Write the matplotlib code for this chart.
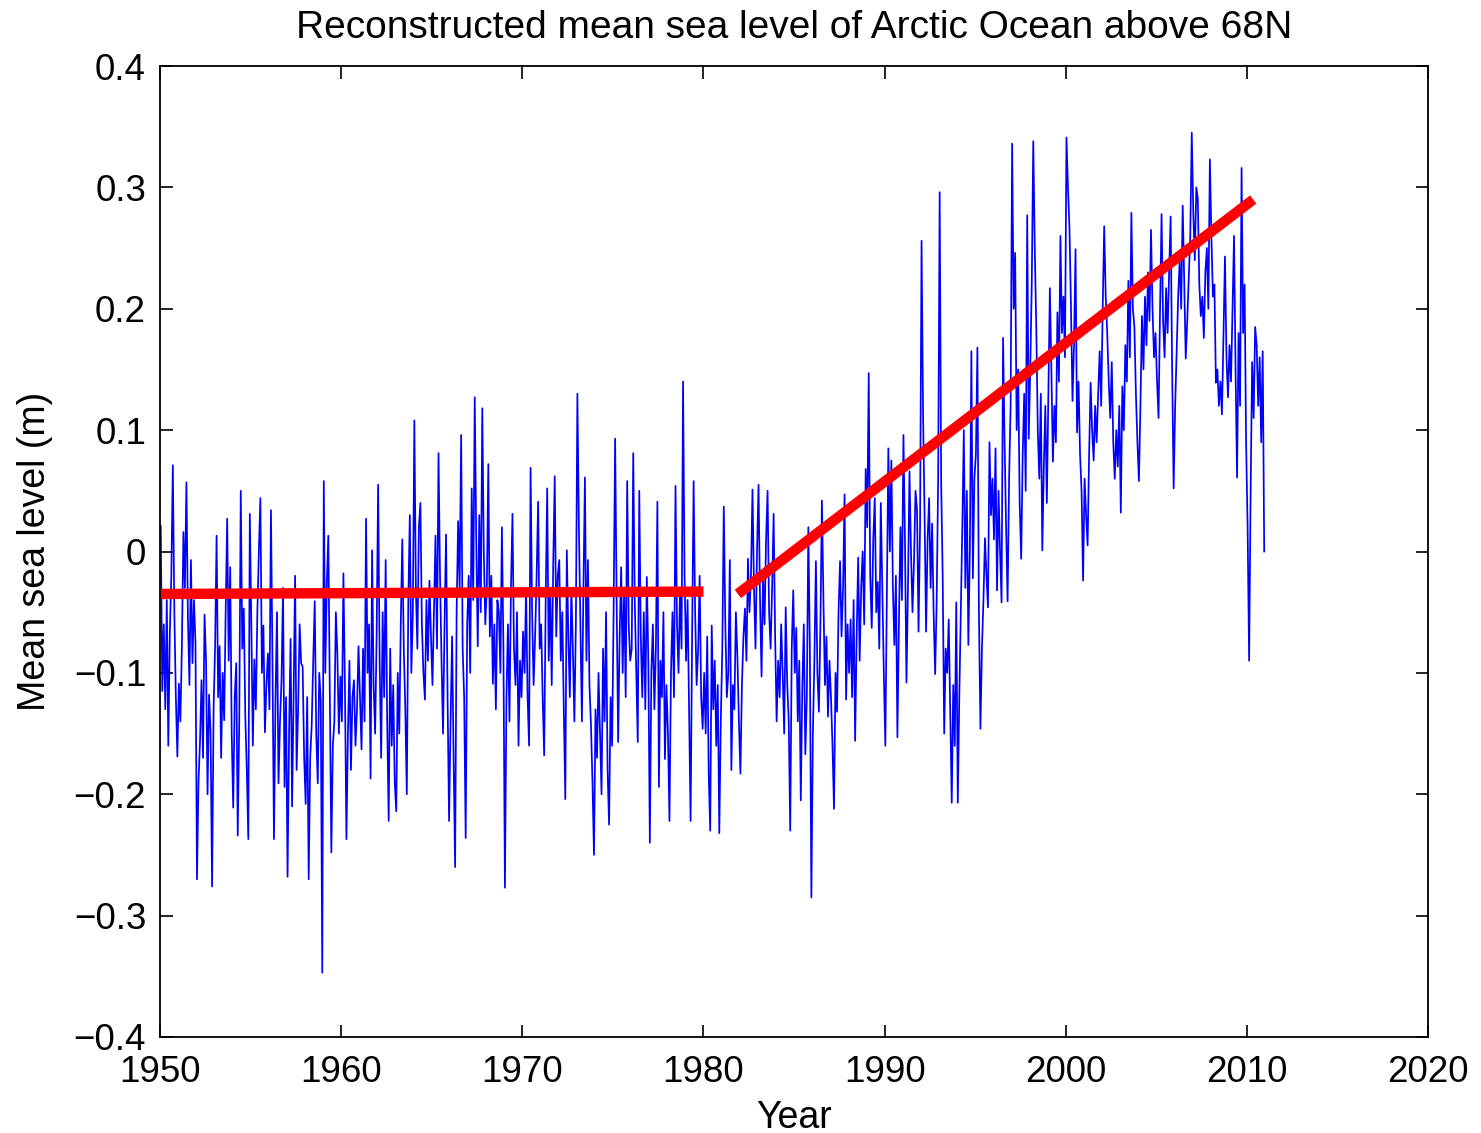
import numpy as np
import matplotlib
matplotlib.use("Agg")
import matplotlib.pyplot as plt

plt.rcParams['font.family'] = ['Liberation Sans', 'DejaVu Sans']

# Monthly reconstructed mean sea level (m), Jan 1950 .. Dec 2010
msl_by_year = {
    1950: [0.021, -0.115, -0.06, -0.13, -0.04, -0.16, -0.067, -0.02, 0.071, -0.05, -0.12, -0.169],
    1951: [-0.109, -0.14, -0.078, 0.016, -0.03, 0.057, -0.055, -0.11, -0.007, -0.092, -0.04, -0.075],
    1952: [-0.27, -0.19, -0.157, -0.106, -0.17, -0.052, -0.09, -0.2, -0.118, -0.149, -0.276, -0.13],
    1953: [-0.078, 0.013, -0.12, -0.078, -0.17, -0.1, -0.139, -0.05, 0.027, -0.09, -0.013, -0.15],
    1954: [-0.211, -0.12, -0.092, -0.234, -0.14, 0.05, -0.08, -0.047, -0.135, -0.18, -0.237, 0.031],
    1955: [-0.06, -0.16, -0.089, -0.13, -0.05, 0.001, 0.044, -0.1, -0.061, -0.149, -0.11, -0.084],
    1956: [-0.13, 0.034, -0.09, -0.237, -0.123, -0.05, -0.191, -0.14, -0.106, -0.03, -0.194, -0.12],
    1957: [-0.268, -0.15, -0.072, -0.21, -0.12, -0.02, -0.18, -0.13, -0.06, -0.092, -0.095, -0.17],
    1958: [-0.208, -0.12, -0.27, -0.17, -0.143, -0.09, -0.041, -0.15, -0.191, -0.1, -0.123, -0.347],
    1959: [0.058, -0.1, -0.027, 0.013, -0.12, -0.248, -0.16, -0.14, -0.05, -0.084, -0.15, -0.103],
    1960: [-0.14, -0.018, -0.11, -0.237, -0.15, -0.09, -0.18, -0.12, -0.106, -0.16, -0.13, -0.078],
    1961: [-0.12, -0.163, -0.08, -0.14, 0.027, -0.1, -0.06, -0.187, 0.001, -0.11, -0.15, -0.07],
    1962: [0.055, -0.09, -0.17, -0.05, -0.12, -0.007, -0.14, -0.222, -0.08, -0.16, -0.11, -0.19],
    1963: [-0.214, -0.1, -0.15, -0.06, 0.01, -0.08, -0.13, -0.2, -0.04, 0.03, -0.1, -0.05],
    1964: [0.108, -0.03, -0.08, 0.02, 0.04, -0.06, -0.1, -0.122, -0.04, -0.09, -0.024, -0.07],
    1965: [-0.11, -0.05, 0.013, -0.08, 0.081, -0.02, -0.09, -0.15, -0.06, 0.014, -0.12, -0.222],
    1966: [-0.14, -0.07, -0.17, -0.26, -0.05, 0.025, -0.03, 0.096, -0.08, -0.12, -0.236, -0.06],
    1967: [-0.02, -0.1, 0.052, -0.04, 0.127, 0.01, -0.078, 0.03, -0.05, 0.118, 0.0, -0.06],
    1968: [-0.03, 0.072, -0.07, -0.02, -0.109, -0.06, -0.13, -0.04, -0.05, -0.1, 0.02, -0.08],
    1969: [-0.277, -0.12, -0.06, -0.14, -0.03, 0.031, -0.08, -0.11, -0.05, -0.16, -0.09, -0.12],
    1970: [-0.066, -0.1, -0.03, -0.12, -0.16, 0.069, -0.05, -0.11, -0.07, -0.02, 0.041, -0.08],
    1971: [-0.06, -0.12, -0.168, -0.04, 0.052, -0.09, -0.03, -0.11, -0.01, 0.062, -0.07, -0.02],
    1972: [-0.007, -0.09, -0.05, -0.13, -0.204, 0.001, -0.07, -0.12, -0.03, -0.08, -0.14, -0.06],
    1973: [0.13, 0.02, -0.06, -0.14, -0.03, 0.061, -0.09, -0.007, -0.11, -0.143, -0.19, -0.25],
    1974: [-0.13, -0.17, -0.1, -0.15, -0.2, -0.08, -0.14, -0.05, -0.18, -0.225, -0.12, -0.16],
    1975: [-0.05, 0.093, -0.04, -0.157, -0.07, -0.013, -0.1, -0.03, -0.12, 0.058, -0.06, -0.09],
    1976: [-0.08, 0.081, -0.04, -0.1, -0.157, 0.05, -0.07, -0.12, -0.05, -0.13, -0.021, -0.09],
    1977: [-0.24, -0.1, -0.06, -0.13, -0.08, 0.041, -0.194, -0.09, -0.12, -0.05, -0.171, -0.11],
    1978: [-0.15, -0.222, -0.1, -0.05, -0.12, 0.054, -0.06, -0.1, -0.03, -0.08, 0.14, -0.02],
    1979: [-0.09, -0.04, -0.13, -0.222, -0.07, 0.058, -0.05, -0.11, -0.081, -0.02, -0.12, -0.146],
    1980: [-0.1, -0.15, -0.07, -0.183, -0.23, -0.061, -0.13, -0.09, -0.16, -0.11, -0.232, -0.14],
    1981: [-0.08, 0.037, -0.06, -0.12, -0.1, -0.007, -0.18, -0.11, -0.13, -0.05, -0.086, -0.14],
    1982: [-0.183, -0.11, -0.07, -0.047, -0.09, -0.006, -0.05, -0.02, 0.051, -0.03, -0.08, 0.0],
    1983: [0.055, -0.04, -0.103, -0.02, -0.06, 0.01, 0.05, -0.05, -0.08, -0.03, 0.031, -0.07],
    1984: [-0.14, -0.09, -0.12, -0.06, -0.1, -0.15, -0.046, -0.109, -0.139, -0.23, -0.08, -0.032],
    1985: [-0.1, -0.063, -0.14, -0.09, -0.205, -0.112, -0.06, -0.167, -0.12, 0.02, -0.08, -0.285],
    1986: [-0.15, -0.09, -0.008, -0.1, -0.132, -0.06, 0.042, -0.04, -0.11, -0.07, -0.136, -0.09],
    1987: [-0.12, -0.16, -0.212, -0.1, -0.132, -0.05, -0.008, -0.07, -0.03, 0.047, -0.122, -0.06],
    1988: [-0.1, -0.056, -0.12, -0.04, -0.156, -0.07, -0.005, -0.09, -0.03, 0.0, -0.06, 0.068],
    1989: [0.02, 0.147, -0.02, -0.063, 0.01, 0.044, -0.05, -0.025, -0.08, 0.04, -0.03, -0.1],
    1990: [-0.16, -0.04, 0.085, 0.0, 0.075, -0.03, -0.077, -0.02, -0.153, -0.06, 0.02, -0.04],
    1991: [0.096, 0.01, -0.108, -0.03, 0.066, 0.0, -0.05, -0.008, 0.05, 0.034, -0.066, 0.02],
    1992: [0.256, 0.113, 0.03, -0.066, 0.01, 0.044, -0.03, 0.023, -0.05, -0.101, -0.042, 0.06],
    1993: [0.296, 0.056, -0.02, -0.15, -0.08, -0.1, -0.056, -0.13, -0.207, -0.11, -0.16, -0.042],
    1994: [-0.207, -0.12, -0.05, 0.02, 0.1, -0.03, 0.05, -0.077, 0.0, 0.165, -0.022, 0.06],
    1995: [0.08, 0.168, -0.05, -0.146, -0.08, -0.04, 0.011, -0.02, -0.046, 0.09, 0.03, 0.06],
    1996: [0.01, 0.085, -0.032, 0.05, 0.0, -0.042, 0.176, 0.09, 0.02, -0.041, 0.06, 0.12],
    1997: [0.336, 0.2, 0.246, 0.1, 0.15, 0.04, -0.006, 0.08, 0.13, 0.05, 0.277, 0.093],
    1998: [0.15, 0.22, 0.338, 0.25, 0.185, 0.1, 0.06, 0.13, 0.001, 0.07, 0.12, 0.04],
    1999: [0.13, 0.217, 0.15, 0.074, 0.12, 0.09, 0.197, 0.14, 0.26, 0.18, 0.21, 0.16],
    2000: [0.341, 0.3, 0.266, 0.2, 0.124, 0.17, 0.249, 0.098, 0.14, 0.08, 0.05, -0.024],
    2001: [0.06, 0.03, 0.005, 0.08, 0.139, 0.1, 0.075, 0.12, 0.09, 0.13, 0.165, 0.12],
    2002: [0.2, 0.268, 0.21, 0.18, 0.14, 0.11, 0.156, 0.09, 0.06, 0.1, 0.07, 0.12],
    2003: [0.032, 0.136, 0.1, 0.17, 0.14, 0.223, 0.16, 0.279, 0.2, 0.185, 0.13, 0.09],
    2004: [0.058, 0.12, 0.194, 0.15, 0.21, 0.17, 0.23, 0.19, 0.265, 0.2, 0.16, 0.18],
    2005: [0.14, 0.11, 0.2, 0.278, 0.19, 0.16, 0.217, 0.18, 0.23, 0.276, 0.15, 0.052],
    2006: [0.12, 0.165, 0.21, 0.24, 0.2, 0.285, 0.22, 0.159, 0.19, 0.226, 0.26, 0.345],
    2007: [0.28, 0.24, 0.3, 0.291, 0.22, 0.194, 0.21, 0.176, 0.23, 0.25, 0.2, 0.323],
    2008: [0.26, 0.21, 0.22, 0.139, 0.15, 0.12, 0.14, 0.113, 0.18, 0.243, 0.16, 0.127],
    2009: [0.17, 0.14, 0.2, 0.26, 0.15, 0.061, 0.18, 0.12, 0.316, 0.18, 0.22, 0.09],
    2010: [0.02, -0.09, 0.05, 0.156, 0.11, 0.185, 0.17, 0.12, 0.16, 0.09, 0.165, 0.0],
}

# Fitted trend segments: (start year, end year, start level, end level)
trend_flat = (1950.0, 1980.0, -0.035, -0.033)
trend_rise = (1981.9, 2010.35, -0.035, 0.29)

x_ticks = [1950, 1960, 1970, 1980, 1990, 2000, 2010, 2020]
y_ticks = [-0.4, -0.3, -0.2, -0.1, 0.0, 0.1, 0.2, 0.3, 0.4]
y_tick_labels = ['\u22120.4', '\u22120.3', '\u22120.2', '\u22120.1', '0', '0.1', '0.2', '0.3', '0.4']

years = sorted(msl_by_year)
t = np.concatenate([y + (np.arange(12) + 0.5) / 12.0 for y in years])
msl = np.concatenate([msl_by_year[y] for y in years])

fig = plt.figure(figsize=(14.81, 11.33), dpi=100)
ax = fig.add_axes([160 / 1481, 1 - 1037 / 1133, (1428 - 160) / 1481, (1037 - 66) / 1133])

ax.plot(t, msl, color='#0000ff', lw=1.25)
for seg in (trend_flat, trend_rise):
    ax.plot([seg[0], seg[1]], [seg[2], seg[3]], color='#ff0000', lw=7.5, solid_capstyle='butt')

ax.set_xlim(1950, 2020)
ax.set_ylim(-0.4, 0.4)
ax.set_xticks(x_ticks)
ax.set_xticklabels([str(v) for v in x_ticks])
ax.set_yticks(y_ticks)
ax.set_yticklabels(y_tick_labels)
ax.tick_params(direction='in', length=9, width=1.2, top=True, right=True,
               labelsize=26.5)
ax.tick_params(axis='x', pad=13)
ax.tick_params(axis='y', pad=10)
for sp in ax.spines.values():
    sp.set_linewidth(1.3)

ax.set_title('Reconstructed mean sea level of Arctic Ocean above 68N', fontsize=28, pad=20)
ax.set_xlabel('Year', fontsize=27, labelpad=7)
ax.set_ylabel('Mean sea level (m)', fontsize=27, labelpad=15)

fig.savefig('out.png', dpi=100)
